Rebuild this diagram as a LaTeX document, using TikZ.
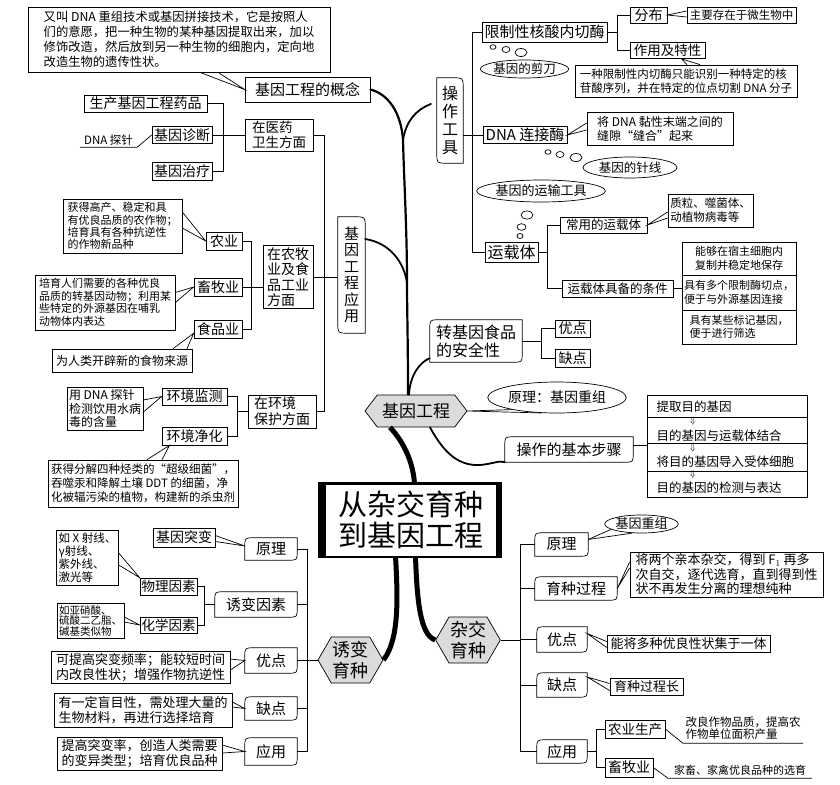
\documentclass[tikz,border=0pt]{standalone}
\usepackage{fontspec}
\setmainfont{Noto Sans CJK SC}
\usetikzlibrary{shapes.geometric,shapes.symbols,calc}
\definecolor{hexgray}{gray}{0.86}
\newcommand{\fsz}[2]{\fontsize{#1}{#2}\selectfont}
\tikzset{
  sz/.style 2 args={minimum width=#1pt,minimum height=#2pt},
  lbl/.style={draw,line width=0.7pt,inner sep=1pt,font=\fsz{14}{16}},
  note/.style={draw,line width=0.7pt,inner sep=2pt,align=left,font=\fsz{12}{14}},
  bare/.style={inner sep=1pt,align=left,font=\fsz{11.5}{12.5}},
  bubble/.style={ellipse,draw,line width=0.7pt,inner sep=0pt,font=\fsz{12.5}{14}},
  steptxt/.style={inner sep=0.5pt,font=\fsz{12.5}{13}},
  hexa/.style={signal,signal to=west and east,signal pointer angle=105,draw,
    fill=hexgray,line width=0.7pt,inner sep=1pt},
  leafa/.style={inner sep=1pt,font=\fsz{15}{17},append after command={\pgfextra{
    \draw[line width=0.7pt] ([yshift=-9pt]\tikzlastnode.north west)
      .. controls (\tikzlastnode.north west) .. ([xshift=9pt]\tikzlastnode.north west)
      -- (\tikzlastnode.north east) -- ([yshift=9pt]\tikzlastnode.south east)
      .. controls (\tikzlastnode.south east) .. ([xshift=-9pt]\tikzlastnode.south east)
      -- (\tikzlastnode.south west) -- cycle;}}},
  leafb/.style={inner sep=1pt,align=center,append after command={\pgfextra{
    \draw[line width=0.7pt] (\tikzlastnode.north west)
      -- ([xshift=-10pt]\tikzlastnode.north east)
      .. controls (\tikzlastnode.north east) .. ([yshift=-10pt]\tikzlastnode.north east)
      -- (\tikzlastnode.south east) -- ([xshift=10pt]\tikzlastnode.south west)
      .. controls (\tikzlastnode.south west) .. ([yshift=10pt]\tikzlastnode.south west)
      -- cycle;}}},
  bus/.style={line width=0.7pt},
  trunk/.style={line width=2.2pt,line cap=round},
  branch/.style={line width=1.8pt,line cap=round},
  thickbr/.style={line width=5pt},
}

\begin{document}
\begin{tikzpicture}[x=1pt,y=-1pt]
\useasboundingbox (0,0) rectangle (840,784);

% centre title
\fill (318,482) rectangle (502,558);
\node[draw,fill=white,line width=0.5pt,align=center,font=\fsz{29}{31},sz={171}{72}] (title) at (410.5,520) {从杂交育种\\到基因工程};

% ---------- gene engineering (upper half)
\node[hexa,font=\fsz{17}{19},sz={102}{32}] (jygc) at (416,411) {基因工程};
\coordinate (j1) at (403,140);
\coordinate (j2) at (407,283);
\coordinate (opend) at (431,104);

% concept
\node[note,font=\fsz{12.3}{15},sz={302}{65}] (defbox) at (179,39.5) {又叫 DNA 重组技术或基因拼接技术，它是按照人\\们的意愿，把一种生物的某种基因提取出来，加以\\修饰改造，然后放到另一种生物的细胞内，定向地\\改造生物的遗传性状。};
\node[lbl,font=\fsz{15}{17},sz={125}{25}] (gainian) at (307.5,89.5) {基因工程的概念};
\draw[bus] ([xshift=21pt]defbox.south) -- (gainian.west) -- ([xshift=39pt]defbox.south);

% applications
\node[leafb,font=\fsz{15}{16.5},sz={27}{116}] (yingyong) at (351.5,275) {基\\因\\工\\程\\应\\用};
\node[lbl,align=left,font=\fsz{13.5}{15},sz={68}{32}] (yiyao) at (279,135) {在医药\\卫生方面};
\node[lbl,sz={123}{17}] (yaopin) at (145.5,103.5) {生产基因工程药品};
\node[lbl,sz={60}{17}] (zhenduan) at (182,135) {基因诊断};
\node[bare,sz={57}{14}] (tanzhen) at (108.5,140) {DNA 探针};
\node[lbl,sz={60}{18}] (zhiliao) at (182,171) {基因治疗};
\draw[bus] (tanzhen.south west) -- (tanzhen.south east) -- (zhenduan.west);
\draw[bus] (yaopin.east) -| ([xshift=11pt]zhenduan.east) |- (zhiliao.east);
\draw[bus] (zhenduan.east) -- (yiyao.west);

\node[lbl,align=left,font=\fsz{14}{15.5},sz={50}{63}] (nongmu) at (288,277) {在农牧\\业及食\\品工业\\方面};
\node[lbl,sz={36}{18}] (nongye) at (224,241) {农业};
\node[lbl,sz={48}{18}] (xumu) at (218,287) {畜牧业};
\node[lbl,sz={48}{18}] (shipin) at (218,329) {食品业};
\node[note,font=\fsz{11}{12.3},sz={119}{54}] (nytxt) at (122.5,226) {获得高产、稳定和具\\有优良品质的农作物；\\培育具有各种抗逆性\\的作物新品种};
\node[note,font=\fsz{11}{12.5},sz={140}{55}] (xmtxt) at (105,302.5) {培育人们需要的各种优良\\品质的转基因动物；利用某\\些特定的外源基因在哺乳\\动物体内表达};
\node[note,sz={140}{23}] (sptxt) at (122,360.5) {为人类开辟新的食物来源};
\draw[bus] (nongye.east) -| ([xshift=9pt]xumu.east) |- (shipin.east);
\draw[bus] (xumu.east) -- (xumu.east -| nongmu.west);
\draw[bus] (nongmu.east) -- (nongmu.east -| yingyong.west);
\draw[bus] ([yshift=14pt]nytxt.east) -- (nongye.west) -- ([yshift=-2pt]nytxt.east);
\draw[bus] ([yshift=10pt]xmtxt.east) -- (xumu.west) -- (xmtxt.east);
\draw[bus] ([xshift=51pt]sptxt.north) -- ([yshift=5pt]shipin.south west) -- ([xshift=65pt]sptxt.north);

\node[lbl,align=left,sz={68}{33}] (huanbao) at (282,411.5) {在环境\\保护方面};
\node[lbl,sz={65}{17}] (jiance) at (194.5,396.5) {环境监测};
\node[lbl,sz={65}{18}] (jinghua) at (194.5,436) {环境净化};
\node[note,font=\fsz{12}{13.5},sz={76}{43}] (jctxt) at (105,408.5) {用 DNA 探针\\检测饮用水病\\毒的含量};
\node[note,font=\fsz{11.5}{14},sz={190}{47}] (jhtxt) at (143,483.5) {获得分解四种烃类的“超级细菌”，\\吞噬汞和降解土壤 DDT 的细菌，净\\化被辐污染的植物，构建新的杀虫剂};
\draw[bus] (jiance.east) -- ++(10,0) |- (jinghua.east);
\draw[bus] (huanbao.west) -- ++(-11,0);
\draw[bus] ([yshift=8.5pt]jctxt.east) -- (jiance.west) -- ([yshift=-3.5pt]jctxt.east);
\draw[bus] ([xshift=4pt]jhtxt.north) -- ([xshift=-25pt]jinghua.south) -- ([xshift=19pt]jhtxt.north);
\draw[bus] (yiyao.east) -- ++(11,0) |- (huanbao.east);

% tools
\node[leafb,font=\fsz{16}{18},sz={26}{85}] (caozuo) at (450,120.5) {操\\作\\工\\具};
\node[lbl,font=\fsz{15}{17},sz={125}{20}] (xianzhi) at (544.5,32) {限制性核酸内切酶};
\node[lbl,font=\fsz{15}{17},sz={84}{17}] (lianjie) at (525,135) {DNA 连接酶};
\node[lbl,font=\fsz{16}{18},sz={53}{20}] (yunzai) at (511.5,252) {运载体};
\draw[bus] (lianjie.west) -- (lianjie.west -| caozuo.east);
\draw[bus] (xianzhi.west) -- ++(-9,0) |- (yunzai.west);

\node[lbl,sz={37}{16}] (fenbu) at (648.5,15) {分布};
\node[lbl,font=\fsz{13.5}{15},sz={75}{16}] (texing) at (667.5,50.5) {作用及特性};
\node[note,font=\fsz{11.5}{13},sz={109}{16}] (fbtxt) at (741.5,15) {主要存在于微生物中};
\node[note,font=\fsz{11.5}{14},sz={222}{32}] (txtxt) at (686,81) {一种限制性内切酶只能识别一种特定的核\\苷酸序列，并在特定的位点切割 DNA 分子};
\draw[bus] (xianzhi.east) -- ++(11,0);
\draw[bus] (fenbu.west) -- ++(-12,0) |- (texing.west);
\draw[bus] ([yshift=4pt]fbtxt.west) -- (fenbu.east) -- ([yshift=-2pt]fbtxt.west);
\draw[bus] ([xshift=1pt]txtxt.north) -- ([xshift=14pt]texing.south) -- ([xshift=14pt]txtxt.north);

\node[bubble,sz={85}{18}] (jiandao) at (524.5,69) {基因的剪刀};
\draw[bus] (493,47) ellipse [x radius=3pt,y radius=2.3pt];
\draw[bus] (506,49.5) ellipse [x radius=4pt,y radius=3pt];
\draw[bus] (521,52.5) ellipse [x radius=6pt,y radius=4pt];

\node[note,sz={146}{33}] (ljtxt) at (660,128.5) {将 DNA 黏性末端之间的\\缝隙“缝合”起来};
\draw[bus] ([yshift=5.5pt]ljtxt.west) -- (lianjie.east) -- ([yshift=-1.5pt]ljtxt.west);
\node[bubble,sz={94}{21}] (zhenxian) at (630,167.5) {基因的针线};
\draw[bus] (548,152) ellipse [x radius=3pt,y radius=2.3pt];
\draw[bus] (560,154.5) ellipse [x radius=4pt,y radius=3pt];
\draw[bus] (576,157.5) ellipse [x radius=6pt,y radius=4pt];

\node[bubble,font=\fsz{13}{14},sz={118}{22}] (yunshu) at (541,191) {基因的运输工具};
\draw[bus] (527,215) ellipse [x radius=6pt,y radius=4pt];
\draw[bus] (521.5,227) ellipse [x radius=4.5pt,y radius=3.3pt];
\draw[bus] (520,236) ellipse [x radius=3pt,y radius=2.5pt];

\node[lbl,font=\fsz{12.5}{14},sz={87}{16}] (changyong) at (603.5,225) {常用的运载体};
\node[lbl,font=\fsz{12.5}{14},sz={111}{17}] (tiaojian) at (617.5,288.5) {运载体具备的条件};
\node[note,font=\fsz{11.5}{14},sz={85}{33}] (cytxt) at (710.5,210.5) {质粒、噬菌体、\\动植物病毒等};
\node[note,font=\fsz{11}{13.5},sz={114}{33}] (tj1) at (739,258.5) {能够在宿主细胞内\\复制并稳定地保存};
\node[note,font=\fsz{11}{13.5},sz={114}{35}] (tj2) at (739,292.5) {具有多个限制酶切点，\\便于与外源基因连接};
\node[note,font=\fsz{11}{13.5},sz={114}{34}] (tj3) at (739,327) {具有某些标记基因，\\便于进行筛选};
\draw[bus] (yunzai.east) -- ++(10,0);
\draw[bus] (changyong.west) -- ++(-12,0) |- (tiaojian.west);
\draw[bus] (tiaojian.east) -- (tiaojian.east -| tj2.west);
\draw[bus] ([yshift=-1.5pt]cytxt.west) -- (changyong.east) -- ([yshift=-7.5pt]cytxt.west);

% safety
\node[leafa,font=\fsz{16}{18},align=left,sz={92}{42}] (anquan) at (476,341) {转基因食品\\的安全性};
\node[lbl,sz={35}{17}] (youdian1) at (572.5,328.5) {优点};
\node[lbl,sz={35}{18}] (quedian1) at (572.5,358) {缺点};
\draw[bus] (anquan.east) -- ++(20,0);
\draw[bus] (youdian1.west) -- ++(-13,0) |- (quedian1.west);

% principle and steps
\node[bubble,font=\fsz{14}{16},sz={120}{31}] (yuanli0) at (557,397.5) {原理：基因重组};
\draw[bus] (yuanli0.195) -- (jygc.east) -- (yuanli0.225);
\node[leafa,sz={128}{25}] (buzhou) at (569,449.5) {操作的基本步骤};
\node[draw,line width=0.7pt,sz={160}{102}] (steps) at (727,446) {};
\foreach \y in {417,443,471}
  \draw[bus] (steps.west |- 0,\y) -- (steps.east |- 0,\y);
\node[steptxt,anchor=west] (s1) at (656,406.5) {提取目的基因};
\node[steptxt,anchor=west] (s2) at (656,435.5) {目的基因与运载体结合};
\node[steptxt,anchor=west] (s3) at (656,462) {将目的基因导入受体细胞};
\node[steptxt,anchor=west] (s4) at (656,487.5) {目的基因的检测与表达};
\foreach \y [count=\i] in {421,448.5,474.5}
  \node[font=\fsz{9}{9},inner sep=0pt] (arr\i) at (693,\y) {$\Downarrow$};
\draw[bus] ([yshift=4pt]buzhou.east) -- ([yshift=4pt]buzhou.east -| steps.west);

% trunk of the upper half
\draw[trunk] ([xshift=-8pt]jygc.north) .. controls (408,340) and (407,310) .. (j2)
  .. controls (407,230) and (404,180) .. (j1) .. controls (401,112) and (388,94) .. (gainian.east);
\draw[branch] (j1) .. controls (406,122) and (415,110) .. (opend);
\draw[branch] ([yshift=36pt]yingyong.east) .. controls (390,243) and (404,262) .. (j2);
\draw[branch] ([xshift=-7pt]jygc.north) .. controls (410,375) and (420,362) .. ([yshift=4pt]anquan.south west);
\draw[branch] ([xshift=14pt]jygc.south) .. controls (445,455) and (460,466) .. (480,465)
  .. controls (492,464) and (500,460) .. (buzhou.south west);
\draw[thickbr] ([xshift=4pt]title.north) .. controls (413,460) and (402,440) .. ([xshift=-26pt]jygc.south);

% ---------- cross breeding
\node[hexa,align=center,font=\fsz{18}{21},signal pointer angle=120,sz={64}{46}] (zajiao) at (468,640) {杂交\\育种};
\draw[thickbr] ([xshift=5pt]title.south) .. controls (417,600) and (420,635) .. (zajiao.west);
\coordinate (zbus) at (520,0);
\node[leafa,sz={53}{23}] (yuanli2) at (561.5,544.5) {原理};
\node[bubble,font=\fsz{13}{14},sz={67}{18}] (zhongrec) at (641.5,524) {基因重组};
\node[leafa,sz={82}{23}] (guocheng) at (576,588.5) {育种过程};
\node[note,font=\fsz{13}{14.5},sz={193}{45}] (gctxt) at (726.5,574.5) {将两个亲本杂交，得到 F$_1$ 再多\\次自交，逐代选育，直到得到性\\状不再发生分离的理想纯种};
\node[leafa,sz={50}{25}] (youdian2) at (562,639.5) {优点};
\node[note,font=\fsz{13}{14},sz={163}{17}] (ydtxt) at (688.5,643.5) {能将多种优良性状集于一体};
\node[leafa,sz={50}{24}] (quedian2) at (562,685) {缺点};
\node[note,font=\fsz{13}{14},sz={73}{17}] (qdtxt) at (646.5,686.5) {育种过程长};
\node[leafa,sz={50}{23}] (yingyong2) at (562,751.5) {应用};
\node[lbl,font=\fsz{13.5}{15},sz={60}{18}] (nysc) at (635,729) {农业生产};
\node[lbl,sz={48}{19}] (xmy2) at (629,767.5) {畜牧业};
\node[bare,sz={120}{30}] (ny2txt) at (743,728) {改良作物品质，提高农\\作物单位面积产量};
\node[bare,font=\fsz{11}{12},sz={144}{16}] (xm2txt) at (740,770) {家畜、家禽优良品种的选育};
\draw[bus] (yuanli2.west -| zbus) -- (yingyong2.west -| zbus);
\foreach \n in {yuanli2,guocheng,youdian2,quedian2,yingyong2}
  \draw[bus] (\n.west) -- (\n.west -| zbus);
\draw[bus] (zajiao.east) -- (zajiao.east -| zbus);
\draw[bus] ([yshift=5pt]yuanli2.east) -- (zhongrec.190);
\draw[bus] ([yshift=5pt]yuanli2.east) -- (zhongrec.225);
\draw[bus] ([yshift=12.5pt]gctxt.west) -- (guocheng.east) -- ([yshift=6.5pt]gctxt.west);
\draw[bus] ([yshift=2pt]ydtxt.west) -- ([yshift=6pt]youdian2.east) -- ([yshift=-4pt]ydtxt.west);
\draw[bus] ([yshift=3pt]qdtxt.west) -- ([yshift=8pt]quedian2.east) -- ([yshift=-4pt]qdtxt.west);
\draw[bus] (yingyong2.east) -- ++(10,0);
\draw[bus] (nysc.west) -- ++(-8,0) |- (xmy2.west);
\draw[bus] (nysc.east) -- (ny2txt.south west) -- (ny2txt.south east);
\draw[bus] (xmy2.east) -- (xm2txt.south west) -- (xm2txt.south east);

% ---------- mutation breeding
\node[hexa,align=center,font=\fsz{18}{21},signal pointer angle=120,sz={65}{46}] (youbian) at (350.5,660) {诱变\\育种};
\draw[thickbr] ([xshift=-15pt]title.south) .. controls (398,600) and (399,640) .. (youbian.east);
\coordinate (ybus) at (307,0);
\node[leafa,sz={52}{22}] (yuanli3) at (271,549) {原理};
\node[lbl,sz={62}{19}] (tubian) at (184,537.5) {基因突变};
\node[leafa,sz={82}{25}] (yinsu) at (256,604.5) {诱变因素};
\node[lbl,font=\fsz{13.5}{15},sz={57}{17}] (wuli) at (168.5,586.5) {物理因素};
\node[lbl,font=\fsz{13.5}{15},sz={57}{16}] (huaxue) at (168.5,625) {化学因素};
\node[note,font=\fsz{11.5}{12.8},sz={59}{55}] (wltxt) at (87.5,557.5) {如 X 射线、\\γ射线、\\紫外线、\\激光等};
\node[note,font=\fsz{10.5}{10.8},sz={65}{32}] (hxtxt) at (90.5,621) {如亚硝酸、\\硫酸二乙脂、\\碱基类似物};
\node[leafa,sz={52}{25}] (youdian3) at (271,660.5) {优点};
\node[note,font=\fsz{13}{14.5},sz={179}{31}] (yd3txt) at (140.5,667.5) {可提高突变频率；能较短时间\\内改良性状；增强作物抗逆性};
\node[leafa,sz={52}{23}] (quedian3) at (271,708.5) {缺点};
\node[note,font=\fsz{13}{14.5},sz={178}{34}] (qd3txt) at (143,710) {有一定盲目性，需处理大量的\\生物材料，再进行选择培育};
\node[leafa,sz={52}{27}] (yingyong3) at (271,751.5) {应用};
\node[note,font=\fsz{13}{14.5},sz={165}{33}] (yy3txt) at (139.5,753.5) {提高突变率，创造人类需要\\的变异类型；培育优良品种};
\draw[bus] (yuanli3.east -| ybus) -- (yingyong3.east -| ybus);
\foreach \n in {yuanli3,yinsu,youdian3,quedian3,yingyong3}
  \draw[bus] (\n.east) -- (\n.east -| ybus);
\draw[bus] (youbian.west) -- (youbian.west -| ybus);
\draw[bus] (wuli.east) -- ++(7,0) |- (huaxue.east);
\draw[bus] (yinsu.west) -- ++(-11,0);
\draw[bus] ([yshift=2pt]tubian.east) -- ([yshift=3pt]yuanli3.west) -- ([yshift=-4pt]tubian.east);
\draw[bus] ([yshift=4.5pt]wltxt.east) -- (wuli.north west) -- ([yshift=-7.5pt]wltxt.east);
\draw[bus] ([yshift=4pt]hxtxt.east) -- (huaxue.west) -- ([yshift=-1pt]hxtxt.east);
\draw[bus] ([yshift=8.5pt]yd3txt.east) -- (youdian3.west) -- ([yshift=-2.5pt]yd3txt.east);
\draw[bus] ([yshift=8pt]qd3txt.east) -- (quedian3.west) -- ([yshift=3pt]qd3txt.east);
\draw[bus] ([yshift=8.5pt]yy3txt.east) -- (yingyong3.west) -- ([yshift=0.5pt]yy3txt.east);
\end{tikzpicture}
\end{document}
